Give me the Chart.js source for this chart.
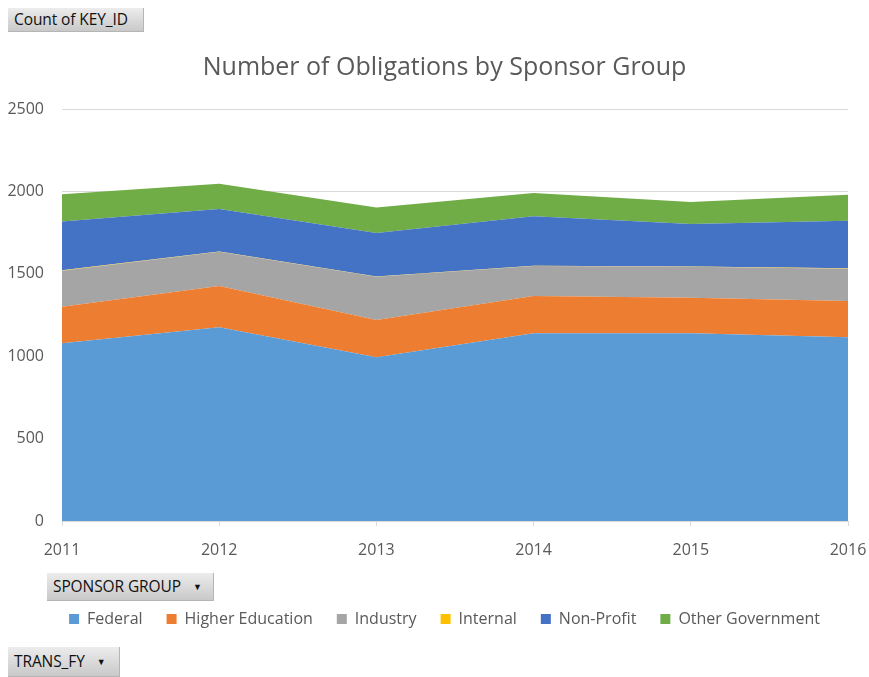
<!DOCTYPE html>
<html>
<head>
<meta charset="utf-8">
<script src="https://cdn.jsdelivr.net/npm/chart.js@4/dist/chart.umd.min.js"></script>
<style>
  body { margin: 0; background: #fff; }
  .wrap { position: relative; width: 869px; height: 677px; }
  canvas { position: absolute; left: 0; top: 0; }
  .btn {
    position: absolute;
    background: linear-gradient(#ececec, #c9c9c9);
    border-right: 1px solid #b5b5b5;
    border-bottom: 1px solid #b5b5b5;
    font-family: "Open Sans", sans-serif;
    font-size: 15.5px;
    color: #111;
    letter-spacing: -0.1px;
    box-sizing: border-box;
    padding-left: 6px;
    white-space: nowrap;
  }
  .btn .arr { font-size: 9px; margin-left: 12px; position: relative; top: -2px; }
</style>
</head>
<body>
<div class="wrap">
  <canvas id="chart" width="869" height="677"></canvas>
  <div class="btn" style="left:8px;top:8px;width:136px;height:24px;line-height:23px;">Count of KEY_ID</div>
  <div class="btn" style="left:47px;top:573px;width:167px;height:28px;line-height:27px;">SPONSOR GROUP<span class="arr">&#9660;</span></div>
  <div class="btn" style="left:8px;top:647px;width:112px;height:30px;line-height:29px;">TRANS_FY<span class="arr">&#9660;</span></div>
</div>
<script>
// data
const years = ["2011", "2012", "2013", "2014", "2015", "2016"];
const federal = [1078, 1175, 993, 1139, 1139, 1115];
const higherEd = [222, 251, 227, 226, 216, 220];
const industry = [219, 208, 262, 182, 188, 196];
const internal = [2, 2, 2, 2, 2, 2];
const nonProfit = [297, 257, 264, 300, 257, 289];
const otherGov = [164, 154, 155, 141, 134, 158];

const txt = "#595959";
const font = "'Open Sans', sans-serif";

function area(label, values, color, first) {
  return {
    label: label,
    data: values,
    backgroundColor: color,
    borderColor: color,
    borderWidth: 0,
    pointRadius: 0,
    fill: first ? "origin" : "-1",
    tension: 0,
  };
}

const ctx = document.getElementById("chart").getContext("2d");
new Chart(ctx, {
  type: "line",
  data: {
    labels: years,
    datasets: [
      area("Federal", federal, "#5B9BD5", true),
      area("Higher Education", higherEd, "#ED7D31"),
      area("Industry", industry, "#A5A5A5"),
      area("Internal", internal, "#FFC000"),
      area("Non-Profit", nonProfit, "#4472C4"),
      area("Other Government", otherGov, "#70AD47"),
    ],
  },
  options: {
    responsive: false,
    animation: false,
    // negative right padding nudges the centred title/legend to the right
    layout: { padding: { left: 8, right: -12, top: 0, bottom: 40 } },
    plugins: {
      title: {
        display: true,
        text: "Number of Obligations by Sponsor Group",
        color: txt,
        font: { family: font, size: 25, weight: "normal" },
        padding: { top: 53, bottom: 26 },
      },
      legend: {
        position: "bottom",
        labels: {
          color: txt,
          font: { family: font, size: 16 },
          boxWidth: 10,
          boxHeight: 10,
          padding: 24,
        },
      },
      tooltip: { enabled: false },
    },
    scales: {
      x: {
        offset: false,
        grid: {
          drawOnChartArea: false,
          drawTicks: true,
          tickLength: 5,
          color: "#d9d9d9",
        },
        border: { color: "#d9d9d9" },
        ticks: {
          color: txt,
          font: { family: font, size: 16 },
          padding: 15,
          maxRotation: 0,
        },
        afterFit: (s) => {
          s.height = 66;
          s.paddingRight = 21;
          s.paddingLeft = 0;
        },
      },
      y: {
        stacked: true,
        min: 0,
        max: 2500,
        ticks: {
          stepSize: 500,
          color: txt,
          font: { family: font, size: 16 },
          padding: 18,
          callback: (v) => String(v),
        },
        grid: { color: "#d9d9d9", drawTicks: false },
        border: { display: false },
        afterFit: (s) => {
          s.width = 54;
        },
      },
    },
  },
});
</script>
</body>
</html>
